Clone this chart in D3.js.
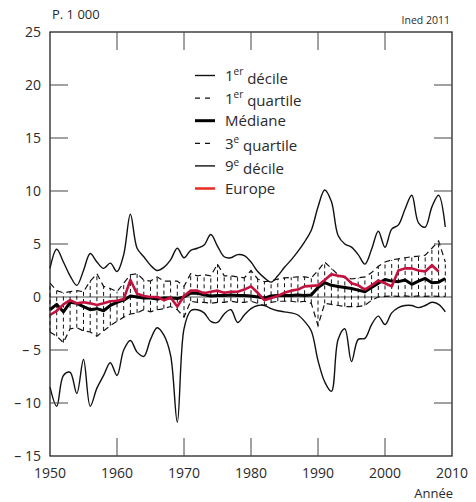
<!DOCTYPE html>
<html><head><meta charset="utf-8">
<script src="https://cdn.jsdelivr.net/npm/d3@7"></script>
<style>body{margin:0;background:#fff}svg{display:block}text{font-family:"Open Sans",sans-serif}</style>
</head><body>
<svg id="c" width="476" height="502"></svg>
<script>
const years = d3.range(1950, 2010);
const decile1 = [-8.5,-10.3,-7.4,-7.1,-9.1,-5.9,-10.3,-8.6,-7.4,-6.2,
 -7.4,-5.0,-4.1,-5.2,-5.6,-4.0,-2.9,-3.6,-5.5,-11.8,
 -3.0,-1.3,-1.2,-1.5,-2.3,-2.4,-1.6,-1.2,-2.4,-1.7,
 -1.1,-0.8,-0.8,-1.1,-1.3,-1.4,-1.5,-1.7,-2.3,-3.2,
 -6.0,-8.0,-8.9,-4.0,-3.0,-6.1,-4.0,-3.9,-2.6,-1.8,
 -2.6,-1.5,-1.0,-0.8,-0.8,-1.0,-0.8,-0.5,-0.7,-1.4];
const quartile1 = [-3.3,-3.7,-4.3,-3.0,-2.9,-3.2,-3.3,-3.7,-3.2,-2.7,
 -2.3,-1.9,-1.6,-1.5,-1.2,-1.4,-1.2,-1.1,-0.9,-1.2,
 -1.9,-0.4,-0.5,-0.5,-0.6,-0.5,-0.5,-0.4,-0.5,-0.5,
 -0.4,-0.6,-0.8,-0.5,-0.4,-0.4,-0.4,-0.5,-0.4,-0.6,
 -2.7,-0.6,-0.7,-0.8,-0.9,-0.9,-0.9,-0.8,-0.3,0.0,
 0.05,0.1,0.05,0.1,0.05,0.1,0.05,0.1,0.05,0.05];
const mediane = [-1.2,-0.7,-1.4,-0.5,-0.6,-0.9,-1.2,-1.1,-1.3,-0.8,
 -0.5,-0.3,0.1,0.0,-0.1,-0.1,-0.2,-0.1,-0.1,-0.15,
 0.0,0.35,0.35,0.2,0.1,0.15,0.15,0.2,0.15,0.15,
 0.1,0.0,-0.1,0.1,0.15,0.15,0.15,0.2,0.15,0.2,
 0.9,1.35,1.1,1.0,0.9,0.8,0.65,0.5,0.9,1.3,
 1.65,1.5,1.45,1.6,1.2,1.5,1.75,1.35,1.4,1.75];
const quartile3 = [1.3,0.6,0.4,0.5,0.6,0.5,1.5,2.2,1.0,0.8,
 0.5,1.3,2.1,2.2,1.6,1.5,1.9,1.5,1.5,1.5,
 1.0,2.2,2.0,2.1,2.0,3.1,2.0,2.0,1.9,1.8,
 2.5,1.7,1.45,1.5,1.7,1.8,1.85,1.9,1.9,1.8,
 2.5,3.3,2.7,2.1,1.9,1.7,1.8,1.9,2.3,2.9,
 3.3,3.5,3.6,3.7,3.8,3.85,3.95,4.6,5.3,3.3];
const decile9 = [2.7,4.5,3.3,2.0,1.1,2.5,4.1,3.3,2.7,3.2,
 2.4,4.0,7.8,4.6,3.8,3.0,2.5,2.8,3.5,4.6,
 3.7,4.4,4.6,4.9,5.9,4.8,3.8,3.7,4.0,3.9,
 3.3,2.4,1.8,1.4,2.0,2.8,3.5,4.3,5.2,6.3,
 8.5,10.1,9.0,5.8,5.0,4.7,4.0,3.1,4.5,6.2,
 4.7,6.4,6.8,8.3,9.6,7.0,6.6,8.5,9.6,6.6];
const europeYears = d3.range(1950, 2009);
const europe = [-1.7,-1.3,-0.7,-0.3,-0.6,-0.5,-0.6,-0.75,-0.6,-0.4,
 -0.35,-0.2,1.6,0.3,0.1,0.0,0.0,-0.3,-0.05,-0.9,
 0.1,0.6,0.6,0.35,0.5,0.6,0.4,0.5,0.5,0.7,
 1.0,0.4,-0.3,-0.1,0.1,0.4,0.6,0.7,1.0,1.05,
 1.1,1.6,2.15,2.0,1.9,1.3,1.1,0.7,1.1,1.55,
 1.3,1.0,2.5,2.7,2.7,2.5,2.4,3.0,2.4];
const yTicks = [25,20,15,10,5,0,-5,-10,-15];
const yTickLabels = ["25","20","15","10","5","0","\u2013 5","\u2013 10","\u2013 15"];
const xTicks = [1950,1960,1970,1980,1990,2000,2010];
const legendItems = [
  {main:"1", sup:"er", rest:" décile", type:"d"},
  {main:"1", sup:"er", rest:" quartile", type:"q"},
  {main:"Médiane", sup:"", rest:"", type:"m"},
  {main:"3", sup:"e", rest:" quartile", type:"q"},
  {main:"9", sup:"e", rest:" décile", type:"d"},
  {main:"Europe", sup:"", rest:"", type:"e"}
];

const svg = d3.select("#c");
const L=50, R=452, T=32, B=456;
const x = d3.scaleLinear().domain([1950,2010]).range([L,R]);
const y = d3.scaleLinear().domain([-15,25]).range([B,T]);
const txt = "#2a2a2a";

// zero line
svg.append("line").attr("x1",L).attr("x2",R).attr("y1",y(0)).attr("y2",y(0))
  .attr("stroke","#8a8a8a").attr("stroke-width",1.6);

// hatching between quartiles
svg.append("g").selectAll("line").data(years).join("line")
  .attr("x1",d=>x(d)).attr("x2",d=>x(d))
  .attr("y1",(d,i)=>y(quartile1[i])).attr("y2",(d,i)=>y(quartile3[i]))
  .attr("stroke","#111").attr("stroke-width",1).attr("stroke-dasharray","4,3");

const lineOf = (vals, yrs, curve) => d3.line().x((d,i)=>x(yrs[i])).y(d=>y(d)).curve(curve)(vals);
const smooth = d3.curveCatmullRom.alpha(0.5);

svg.append("path").attr("d",lineOf(decile1,years,smooth)).attr("fill","none").attr("stroke","#111").attr("stroke-width",1.4);
svg.append("path").attr("d",lineOf(decile9,years,smooth)).attr("fill","none").attr("stroke","#111").attr("stroke-width",1.4);
svg.append("path").attr("d",lineOf(quartile1,years,d3.curveLinear)).attr("fill","none").attr("stroke","#111").attr("stroke-width",1.2).attr("stroke-dasharray","6,4");
svg.append("path").attr("d",lineOf(quartile3,years,d3.curveLinear)).attr("fill","none").attr("stroke","#111").attr("stroke-width",1.2).attr("stroke-dasharray","6,4");
svg.append("path").attr("d",lineOf(mediane,years,d3.curveLinear)).attr("fill","none").attr("stroke","#000").attr("stroke-width",3).attr("stroke-linejoin","round");
svg.append("path").attr("d",lineOf(europe,europeYears,d3.curveLinear)).attr("fill","none").attr("stroke","#c4123f").attr("stroke-width",2.6).attr("stroke-linejoin","round");

// frame
svg.append("rect").attr("x",L).attr("y",T).attr("width",R-L).attr("height",B-T)
  .attr("fill","none").attr("stroke","#222").attr("stroke-width",1.3);

// y ticks (inner)
const yInner = yTicks.filter(v=>v!==25 && v!==-15 && v!==0);
svg.append("g").selectAll("line").data(yInner).join("line")
  .attr("x1",L).attr("x2",L+18).attr("y1",d=>y(d)).attr("y2",d=>y(d)).attr("stroke","#444").attr("stroke-width",1);
svg.append("g").selectAll("line").data(yInner).join("line")
  .attr("x1",R-18).attr("x2",R).attr("y1",d=>y(d)).attr("y2",d=>y(d)).attr("stroke","#444").attr("stroke-width",1);
// x ticks
const xInner = xTicks.filter(v=>v!==1950 && v!==2010);
svg.append("g").selectAll("line").data(xInner).join("line")
  .attr("x1",d=>x(d)).attr("x2",d=>x(d)).attr("y1",T).attr("y2",T+18).attr("stroke","#444").attr("stroke-width",1);
svg.append("g").selectAll("line").data(xInner).join("line")
  .attr("x1",d=>x(d)).attr("x2",d=>x(d)).attr("y1",B-18).attr("y2",B).attr("stroke","#444").attr("stroke-width",1);

// y labels
svg.append("g").selectAll("text").data(yTicks).join("text")
  .attr("x",41).attr("y",d=>y(d)).attr("dy","0.36em").attr("text-anchor","end")
  .attr("font-size",14).attr("fill",txt).text((d,i)=>yTickLabels[i]);
// x labels
svg.append("g").selectAll("text").data(xTicks).join("text")
  .attr("x",d=>x(d)).attr("y",478).attr("text-anchor","middle")
  .attr("font-size",14).attr("fill",txt).text(d=>d);

svg.append("text").attr("x",453).attr("y",498).attr("text-anchor","end").attr("font-size",13).attr("fill",txt).text("Année");
svg.append("text").attr("x",52).attr("y",19).attr("font-size",13).attr("fill",txt).text("P. 1 000");
svg.append("text").attr("x",450).attr("y",24).attr("text-anchor","end").attr("font-size",10.5).attr("fill",txt).text("Ined 2011");

// legend
const lg = svg.append("g");
legendItems.forEach((it,i)=>{
  const cy = 75.5 + i*22.6;
  const ln = lg.append("line").attr("x1",195).attr("x2",215).attr("y1",cy).attr("y2",cy);
  if(it.type==="d") ln.attr("stroke","#111").attr("stroke-width",1.4);
  if(it.type==="q") ln.attr("stroke","#111").attr("stroke-width",1.2).attr("stroke-dasharray","5,5");
  if(it.type==="m") ln.attr("stroke","#000").attr("stroke-width",3);
  if(it.type==="e") ln.attr("stroke","#e8332b").attr("stroke-width",2.6);
  const t = lg.append("text").attr("x",225).attr("y",cy).attr("dy","0.36em").attr("font-size",15).attr("fill",txt);
  t.append("tspan").text(it.main);
  if(it.sup){
    t.append("tspan").attr("font-size",10).attr("dy","-0.55em").text(it.sup);
    t.append("tspan").attr("dy","0.55em").text(" ");
    t.append("tspan").text(it.rest.trim());
  }
});
</script>
</body></html>
